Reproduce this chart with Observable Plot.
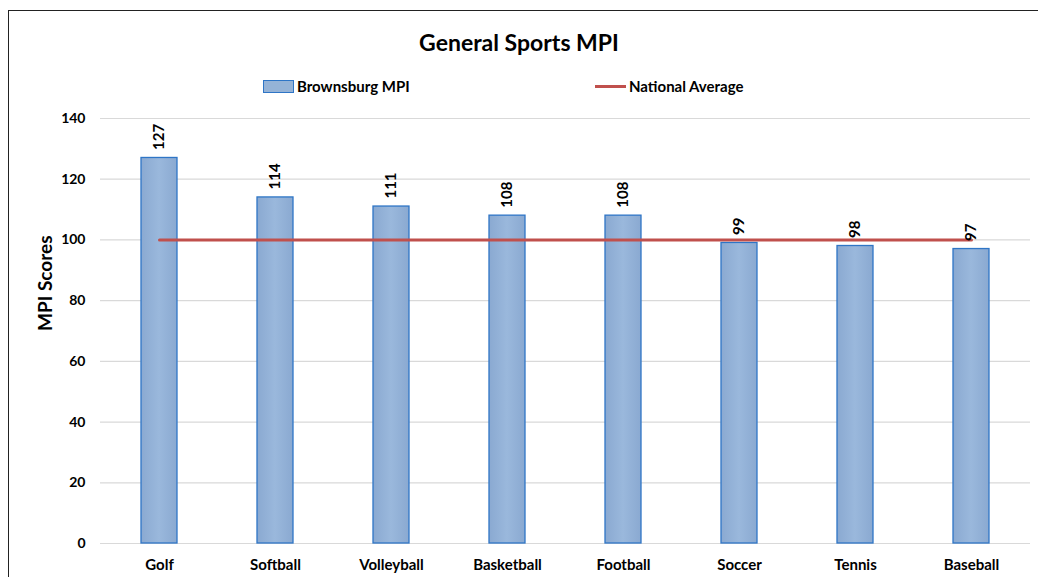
<!DOCTYPE html>
<html>
<head>
<meta charset="utf-8">
<script src="https://cdn.jsdelivr.net/npm/d3@7"></script>
<script src="https://cdn.jsdelivr.net/npm/@observablehq/plot@0.6"></script>
<style>
  html, body { margin: 0; padding: 0; background: #fff; }
  body { width: 1038px; height: 577px; position: relative; overflow: hidden; font-family: Lato, "Open Sans", sans-serif; }
  #frame { position: absolute; left: 8px; top: 10px; width: 1040px; height: 600px; border-left: 1.5px solid #222; border-top: 1.5px solid #222; }
  #title { position: absolute; left: 0; width: 1038px; top: 28px; text-align: center; font-size: 23px; font-weight: bold; color: #000; }
  .leg { position: absolute; top: 77px; font-size: 15px; font-weight: bold; color: #000; display: flex; align-items: center; }
  .sw-bar { width: 29px; height: 11px; background: #95b3d7; border: 1px solid #2e75c6; margin-right: 3px; }
  .sw-line { width: 31px; height: 3px; background: #c0504d; margin-right: 3px; }
  #chart { position: absolute; left: 0; top: 0; }
</style>
</head>
<body>
<div id="frame"></div>
<div id="chart"></div>
<div id="title">General Sports MPI</div>
<div class="leg" style="left:263px"><div class="sw-bar"></div>Brownsburg MPI</div>
<div class="leg" style="left:595px"><div class="sw-line"></div>National Average</div>
<script>
const sports = ["Golf", "Softball", "Volleyball", "Basketball", "Football", "Soccer", "Tennis", "Baseball"];
const mpi = [127, 114, 111, 108, 108, 99, 98, 97];
const nationalAverage = [100, 100, 100, 100, 100, 100, 100, 100];
const yTicks = [0, 20, 40, 60, 80, 100, 120, 140];

const data = sports.map((s, i) => ({sport: s, mpi: mpi[i], avg: nationalAverage[i]}));

const chart = Plot.plot({
  width: 1038,
  height: 577,
  marginTop: 118,
  marginBottom: 34,
  marginLeft: 100,
  marginRight: 8,
  style: {fontFamily: "Lato, 'Open Sans', sans-serif", background: "transparent", overflow: "visible"},
  x: {domain: sports, paddingInner: 0.69, paddingOuter: 0.345, label: null},
  y: {domain: [0, 140], ticks: yTicks, label: null},
  marks: [
    Plot.gridY(yTicks, {stroke: "#d9d9d9", strokeOpacity: 1, strokeWidth: 1.2}),
    Plot.barY(data, {x: "sport", y: "mpi", fill: "url(#barGrad)", stroke: "#2e75c6", strokeWidth: 1.3}),
    Plot.lineY(data, {x: "sport", y: "avg", stroke: "#c0504d", strokeWidth: 3}),
    Plot.text(data, {x: "sport", y: "mpi", text: d => String(d.mpi), rotate: -90, textAnchor: "start", lineAnchor: "middle", dy: -8, fontSize: 15, fontWeight: "bold", fill: "#000"}),
    Plot.axisX({tickSize: 0, tickPadding: 16, fontSize: 15, fontWeight: "bold", label: null}),
    Plot.axisY(yTicks, {tickSize: 0, tickPadding: 15, fontSize: 14, fontWeight: "bold", label: null}),
    Plot.text(["MPI Scores"], {frameAnchor: "left", dx: -55, rotate: -90, fontSize: 19, fontWeight: "bold", fill: "#000"})
  ]
});
const ns = "http://www.w3.org/2000/svg";
const defs = document.createElementNS(ns, "defs");
const grad = document.createElementNS(ns, "linearGradient");
grad.setAttribute("id", "barGrad");
grad.setAttribute("x1", "0"); grad.setAttribute("x2", "1"); grad.setAttribute("y1", "0"); grad.setAttribute("y2", "0");
[["0%", "#8aa9d1"], ["50%", "#9ab8dc"], ["100%", "#8aa9d1"]].forEach(([o, c]) => {
  const s = document.createElementNS(ns, "stop");
  s.setAttribute("offset", o); s.setAttribute("stop-color", c);
  grad.appendChild(s);
});
defs.appendChild(grad);
chart.insertBefore(defs, chart.firstChild);
chart.querySelectorAll("text").forEach(t => t.setAttribute("fill", "#000"));
document.getElementById("chart").appendChild(chart);
</script>
</body>
</html>
